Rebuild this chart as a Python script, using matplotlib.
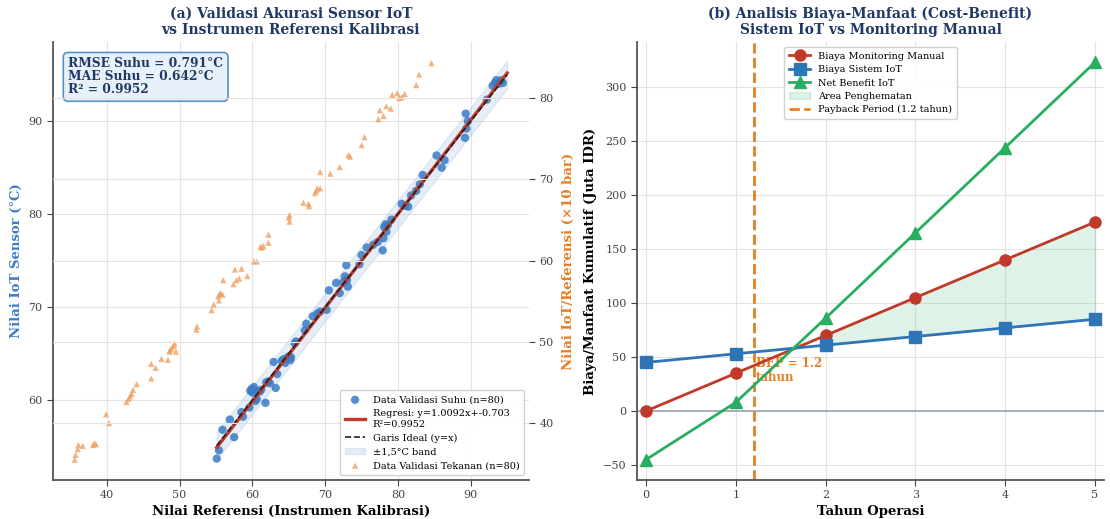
import matplotlib
matplotlib.use("Agg")
import matplotlib.pyplot as plt
import numpy as np

plt.rcParams['font.family'] = ['DejaVu Serif']
plt.rcParams['axes.unicode_minus'] = True

# ---- data: panel (a) ----
ref_suhu = [55.1, 55.4, 55.9, 56.9, 57.5, 58.5, 58.7, 59.6, 59.7, 60.0,
            60.2, 60.4, 60.6, 61.0, 61.2, 61.8, 61.9, 62.4, 63.2, 62.9,
            63.4, 64.0, 64.3, 64.7, 65.0, 65.2, 65.8, 67.2, 67.4, 68.3,
            68.9, 69.3, 70.2, 70.5, 71.5, 72.0, 72.7, 72.9, 73.0, 73.1,
            74.7, 75.0, 75.7, 76.6, 77.9, 78.0, 78.1, 78.4, 78.6, 79.1,
            80.5, 81.0, 81.4, 81.8, 82.5, 83.0, 83.4, 85.3, 86.0, 86.4,
            89.2, 89.4, 89.6, 89.3, 92.2, 93.3, 93.5, 94.2, 94.4, 59.9,
            60.5, 62.2, 64.5, 65.3, 66.0, 72.5, 77.2, 78.3, 93.8, 93.0]
iot_suhu = [53.7, 54.6, 56.8, 57.9, 56.0, 58.7, 58.2, 59.2, 61.0, 60.8,
            61.4, 59.9, 60.1, 60.9, 61.1, 59.7, 61.9, 61.8, 61.3, 64.1,
            62.8, 64.2, 64.4, 64.5, 64.7, 64.3, 66.1, 67.5, 68.2, 69.0,
            69.3, 69.5, 69.7, 71.8, 72.6, 71.5, 73.3, 74.5, 72.9, 72.2,
            74.6, 75.6, 76.4, 76.7, 76.1, 77.4, 78.6, 78.1, 78.8, 79.4,
            81.1, 80.9, 80.8, 82.0, 82.5, 83.2, 84.2, 86.3, 85.0, 85.8,
            88.2, 89.2, 90.0, 90.8, 92.3, 94.1, 94.4, 94.4, 94.1, 61.2,
            61.0, 62.0, 64.0, 64.6, 66.3, 72.7, 77.0, 78.9, 94.0, 93.8]

ref_tekanan = [35.6, 35.7, 36.1, 36.7, 38.1, 38.5, 39.9, 40.3, 42.7, 43.0,
               43.4, 43.6, 44.1, 46.1, 46.1, 46.7, 47.5, 48.4, 48.6, 48.9,
               49.3, 49.5, 52.3, 52.4, 54.4, 54.7, 55.3, 55.5, 55.9, 55.4,
               56.0, 57.4, 57.8, 58.2, 57.6, 58.5, 59.3, 60.2, 60.6, 61.1,
               61.5, 62.2, 62.2, 65.1, 65.1, 67.0, 67.7, 67.8, 68.6, 68.9,
               69.3, 69.3, 70.7, 72.0, 73.2, 73.4, 75.0, 75.4, 77.3, 77.5,
               78.0, 78.4, 79.0, 79.2, 79.9, 80.2, 80.5, 80.9, 82.5, 82.9,
               84.6, 36.0, 38.3, 43.2, 48.7, 49.2, 55.6, 61.3, 65.0, 68.8]
iot_tekanan = [35.5, 36.1, 37.3, 37.2, 37.3, 37.4, 41.1, 40.0, 42.6, 43.0,
               43.6, 44.1, 44.8, 45.5, 47.3, 46.8, 47.9, 47.8, 48.8, 49.2,
               49.8, 48.8, 51.5, 51.9, 53.9, 54.6, 55.6, 55.9, 55.8, 55.1,
               57.6, 57.1, 57.6, 57.8, 58.9, 59.0, 58.1, 59.9, 59.9, 61.7,
               61.8, 63.2, 62.2, 65.6, 64.8, 67.1, 67.0, 66.7, 68.3, 68.9,
               68.9, 70.9, 70.7, 71.5, 73.0, 72.8, 74.2, 75.2, 77.4, 78.5,
               77.8, 79.0, 78.7, 80.4, 80.6, 80.0, 80.1, 80.5, 81.6, 82.9,
               84.3, 36.8, 37.5, 43.3, 49.0, 49.5, 56.0, 61.6, 65.3, 68.6]

slope, intercept, r2 = 1.0092, -0.703, 0.9952
rmse, mae = 0.791, 0.642
band = 1.5

# ---- data: panel (b) ----
tahun = [0, 1, 2, 3, 4, 5]
biaya_manual = [0, 35, 70, 105, 140, 175]
biaya_iot = [45, 53, 61, 69, 77, 85]
net_benefit = [-45, 8, 86, 165, 244, 323]
payback = 1.2

navy = '#1F3864'
blue = '#2E75B6'
red = '#C0392B'
green = '#27AE60'
orange = '#E67E22'
tick_col = '#444444'

fig = plt.figure(figsize=(11.1, 5.19), dpi=100)
ax1 = fig.add_axes([0.0477, 0.0751, 0.4289, 0.8439])
ax3 = fig.add_axes([0.5739, 0.0751, 0.4207, 0.8439])

# ---- panel (a) ----
ax1.grid(True, color='#e3e3e3', lw=0.8)
ax1.set_axisbelow(True)
xs = np.array(ref_suhu)
xl = np.linspace(xs.min(), 95, 50)
ax1.fill_between(xl, xl - band, xl + band, color='#A9C4E6', alpha=0.3,
                 label='±1,5°C band', zorder=1)
ax1.scatter(ref_suhu, iot_suhu, s=36, color='#3A7CC6', alpha=0.85,
            label='Data Validasi Suhu (n=80)', zorder=3, edgecolors='none')
ax1.plot(xl, slope * xl + intercept, color=red, lw=2.4, zorder=4,
         label=f'Regresi: y={slope}x+{intercept}\nR²={r2}')
ax1.plot(xl, xl, '--', color='#222222', lw=1.2, zorder=5,
         label='Garis Ideal (y=x)')
ax1.set_xlim(32.6, 98.0)
ax1.set_ylim(51.4, 98.5)
ax1.set_xlabel('Nilai Referensi (Instrumen Kalibrasi)', fontsize=9.5,
               fontweight='bold', labelpad=3)
ax1.set_ylabel('Nilai IoT Sensor (°C)', fontsize=9.5, fontweight='bold',
               color='#3A7DC9', labelpad=4)
ax1.set_title('(a) Validasi Akurasi Sensor IoT\nvs Instrumen Referensi Kalibrasi',
              fontsize=10, fontweight='bold', color=navy, pad=6)
ax1.tick_params(labelsize=8, colors=tick_col, length=4)

ax2 = ax1.twinx()
ax2.grid(True, color='#e3e3e3', lw=0.8)
ax2.scatter(ref_tekanan, iot_tekanan, s=20, marker='^', color='#F0A060',
            alpha=0.8, edgecolors='none', label='Data Validasi Tekanan (n=80)')
ax2.set_ylim(33.0, 86.9)
ax2.set_ylabel('Nilai IoT/Referensi (×10 bar)', fontsize=9.5,
               fontweight='bold', color=orange, labelpad=6)
ax2.tick_params(labelsize=8, colors=tick_col, length=4)

for a in (ax1, ax2):
    a.spines['top'].set_visible(False)
    a.spines['right'].set_visible(False)
ax1.spines['left'].set_color('#555555')
ax1.spines['bottom'].set_color('#555555')
ax1.spines['left'].set_linewidth(1.3)
ax1.spines['bottom'].set_linewidth(1.3)
ax2.spines['left'].set_visible(False)
ax2.spines['bottom'].set_visible(False)

h1, l1 = ax1.get_legend_handles_labels()
h2, l2 = ax2.get_legend_handles_labels()
order = [1, 2, 3, 0]
handles = [h1[i] for i in order] + h2
labels = [l1[i] for i in order] + l2
ax2.legend(handles, labels, loc='lower right', fontsize=7, framealpha=0.9,
           handlelength=2.0, borderpad=0.5, labelspacing=0.5)

ax1.text(0.032, 0.965, f'RMSE Suhu = {rmse}°C\nMAE Suhu = {mae}°C\nR² = {r2}',
         transform=ax1.transAxes, va='top', ha='left', fontsize=8.8,
         fontweight='bold', color=navy, linespacing=1.0, zorder=10,
         bbox=dict(boxstyle='round,pad=0.4', facecolor='#E8F1FA',
                   edgecolor='#5B8FC9', lw=1.2))

# ---- panel (b) ----
ax3.grid(True, color='#e3e3e3', lw=0.8)
ax3.set_axisbelow(True)
ax3.axhline(0, color='#9aa5ad', lw=1.2, zorder=1)
t = np.array(tahun)
m = np.array(biaya_manual)
i = np.array(biaya_iot)
ax3.text(payback + 0.02, 50, 'BEP = 1.2\ntahun', color=orange, fontsize=8.5,
         fontweight='bold', va='top', ha='left', zorder=1.5, linespacing=1.1)
ax3.plot(tahun, biaya_manual, '-o', color=red, lw=2, ms=8, zorder=3,
         label='Biaya Monitoring Manual')
ax3.plot(tahun, biaya_iot, '-s', color=blue, lw=2, ms=8, zorder=3,
         label='Biaya Sistem IoT')
ax3.plot(tahun, net_benefit, '-^', color=green, lw=2, ms=8, zorder=3,
         label='Net Benefit IoT')
ax3.fill_between(t, i, m, where=m > i, color=green, alpha=0.15,
                 label='Area Penghematan', zorder=1)
ax3.axvline(payback, color=orange, ls='--', lw=2, zorder=2,
            label=f'Payback Period ({payback} tahun)')
ax3.set_xlim(-0.1, 5.1)
ax3.set_ylim(-63.9, 341.7)
ax3.set_xticks(tahun)
ax3.set_xlabel('Tahun Operasi', fontsize=9.5, fontweight='bold', labelpad=3)
ax3.set_ylabel('Biaya/Manfaat Kumulatif (Juta IDR)', fontsize=9.5,
               fontweight='bold', labelpad=4)
ax3.set_title('(b) Analisis Biaya-Manfaat (Cost-Benefit)\nSistem IoT vs Monitoring Manual',
              fontsize=10, fontweight='bold', color=navy, pad=6)
ax3.tick_params(labelsize=8, colors=tick_col, length=4)
ax3.spines['top'].set_visible(False)
ax3.spines['right'].set_visible(False)
ax3.spines['left'].set_color('#555555')
ax3.spines['bottom'].set_color('#555555')
ax3.spines['left'].set_linewidth(1.3)
ax3.spines['bottom'].set_linewidth(1.3)
ax3.legend(loc='upper center', fontsize=7, framealpha=0.9, handlelength=2.2,
           borderpad=0.5, labelspacing=0.45)

fig.savefig('out.png', dpi=100)
